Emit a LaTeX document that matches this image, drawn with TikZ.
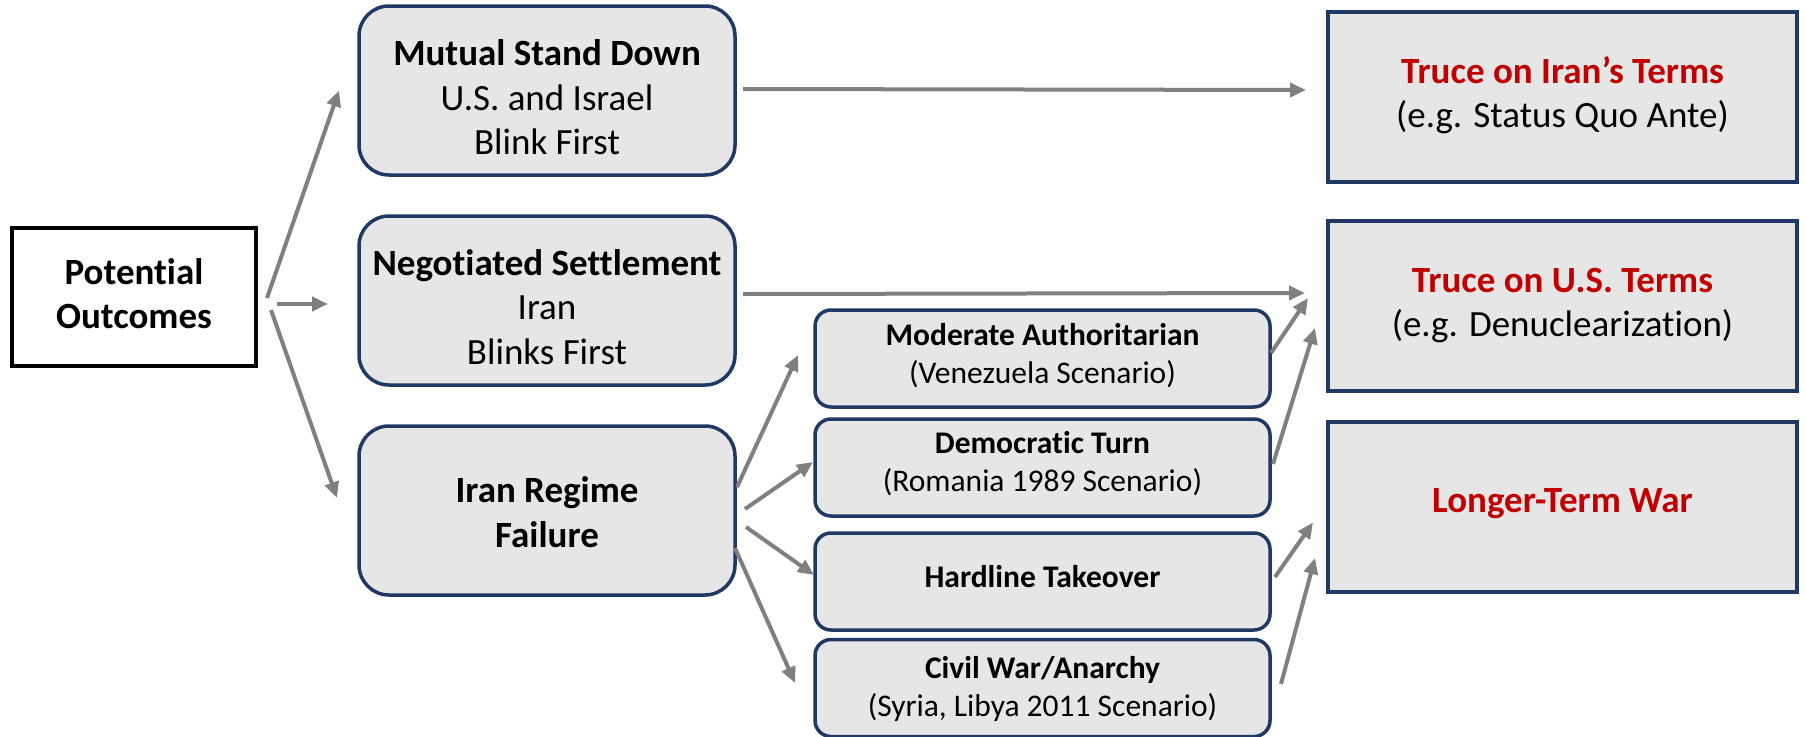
\documentclass[tikz,border=0pt]{standalone}
\usepackage{fontspec}
\setmainfont{Carlito}[Ligatures=NoCommon]
\usetikzlibrary{arrows.meta,calc}
\definecolor{navy}{HTML}{1F3864}
\definecolor{boxgray}{HTML}{E7E6E6}
\definecolor{arrgray}{HTML}{808080}
\definecolor{darkred}{HTML}{C00000}
\tikzset{
  basebox/.style={inner sep=0pt, outer sep=0pt},
  startbox/.style={basebox, draw=black, fill=white, line width=4pt, minimum width=244pt, minimum height=138pt},
  mainbox/.style={basebox, draw=navy, fill=boxgray, line width=3.5pt, rounded corners=30pt, minimum width=376pt, minimum height=169pt},
  subbox/.style={basebox, draw=navy, fill=boxgray, line width=3.5pt, rounded corners=16pt, minimum width=455pt, minimum height=97pt},
  endbox/.style={basebox, draw=navy, fill=boxgray, line width=4pt, minimum width=469pt, minimum height=170pt},
  bigtext/.style={align=center, inner sep=0pt, font=\fontsize{37}{44.5}\selectfont},
  smalltext/.style={align=center, inner sep=0pt, font=\fontsize{31.5}{38}\selectfont},
  conn/.style={draw=arrgray, line width=4pt, -{Triangle[length=16pt,width=14pt]}}
}
\begin{document}
\begin{tikzpicture}[x=1pt,y=-1pt]
\useasboundingbox (0,0) rectangle (1806,736);
% boxes
\node[startbox] (po) at (134,297) {};
\node[mainbox] (msd) at (547,90.5) {};
\node[mainbox] (ns) at (547,300.5) {};
\node[mainbox] (irf) at (547,510.5) {};
\node[subbox] (mod) at (1042.5,358.5) {};
\node[subbox] (dem) at (1042.5,467.5) {};
\node[subbox] (hard) at (1042.5,581.5) {};
\node[subbox] (civ) at (1042.5,688) {};
\node[endbox] (tiu) at (1562.5,97) {};
\node[endbox] (tus) at (1562.5,305.5) {};
\node[endbox] (lw) at (1562.5,506.5) {};
% texts
\node[bigtext] (pot) at ($(po)+(0,-3.5)$) {\textbf{Potential}\\\textbf{Outcomes}};
\node[bigtext] (msdt) at ($(msd)+(0,7)$) {\textbf{Mutual Stand Down}\\U.S. and Israel\\Blink First};
\node[bigtext] (nst) at ($(ns)+(0,6.5)$) {\textbf{Negotiated Settlement}\\Iran\\Blinks First};
\node[bigtext] (irft) at ($(irf)+(0,1.5)$) {\textbf{Iran Regime}\\\textbf{Failure}};
\node[smalltext] (modt) at ($(mod)+(0,-2.5)$) {\textbf{Moderate Authoritarian}\\(Venezuela Scenario)};
\node[smalltext] (demt) at ($(dem)+(0,-3.5)$) {\textbf{Democratic Turn}\\(Romania 1989 Scenario)};
\node[smalltext] (hardt) at ($(hard)+(0,-4.5)$) {\textbf{Hardline Takeover}};
\node[smalltext] (civt) at ($(civ)+(0,0.5)$) {\textbf{Civil War/Anarchy}\\(Syria, Libya 2011 Scenario)};
\node[bigtext] (tiut) at ($(tiu)+(0,-2)$) {\textcolor{darkred}{\textbf{Truce on Iran’s Terms}}\\(e.g. Status Quo Ante)};
\node[bigtext] (tust) at ($(tus)+(0,0)$) {\textcolor{darkred}{\textbf{Truce on U.S. Terms}}\\(e.g. Denuclearization)};
\node[bigtext] (lwt) at ($(lw)+(0,-2.5)$) {\textcolor{darkred}{\textbf{Longer-Term War}}};
% connectors
\draw[conn] ($(po.east)+(11,1)$) -- ($(msd.west)+(-20,0)$);
\draw[conn] ($(po.east)+(21,7)$) -- ($(ns.west)+(-31,3.5)$);
\draw[conn] ($(po.east)+(15,13)$) -- ($(irf.west)+(-22,-12.5)$);
\draw[conn] ($(msd.east)+(8,-1.5)$) -- ($(tiu.west)+(-22,-7)$);
\draw[conn] ($(ns.east)+(8,-6.5)$) -- ($(tus.west)+(-23,-12.5)$);
\draw[conn] ($(irf.east)+(2,-23.5)$) -- ($(mod.west)+(-17,-3.5)$);
\draw[conn] ($(irf.east)+(10,-1.5)$) -- ($(dem.west)+(-2,-5.5)$);
\draw[conn] ($(irf.east)+(11,16.5)$) -- ($(hard.west)+(-1,-6.5)$);
\draw[conn] ($(irf.east)+(0,37.5)$) -- ($(civ.west)+(-20,-5)$);
\draw[conn] ($(mod.east)+(1,-5.5)$) -- ($(tus.west)+(-20,-7.5)$);
\draw[conn] ($(dem.east)+(3,-3.5)$) -- ($(tus.west)+(-13,22.5)$);
\draw[conn] ($(hard.east)+(5,-4.5)$) -- ($(lw.west)+(-15,16)$);
\draw[conn] ($(civ.east)+(11,-4)$) -- ($(lw.west)+(-13,51.5)$);
\end{tikzpicture}
\end{document}
